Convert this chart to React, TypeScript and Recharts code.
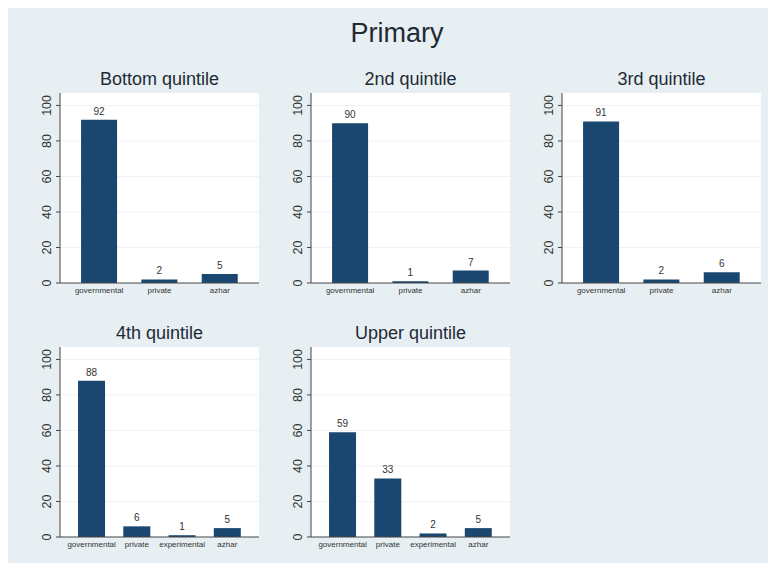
import { BarChart, Bar, XAxis, YAxis, CartesianGrid, LabelList } from "recharts";

const threeTypes = ["governmental", "private", "azhar"];
const fourTypes = ["governmental", "private", "experimental", "azhar"];

const bottomQuintile = [92, 2, 5];
const secondQuintile = [90, 1, 7];
const thirdQuintile = [91, 2, 6];
const fourthQuintile = [88, 6, 1, 5];
const upperQuintile = [59, 33, 2, 5];

const yTicks = [0, 20, 40, 60, 80, 100];

const BG = "#e7eff2";
const NAVY = "#1a476f";
const INK = "#333";
const FONT = "'Liberation Sans', Arial, sans-serif";

const PLOT_W = 199;
const PLOT_H = 190;
const Y_W = 40;
const X_H = 22;

const toRows = (cats: string[], vals: number[]) =>
  cats.map((c, i) => ({ type: c, share: vals[i] }));

const RotatedTick = (props: any) => {
  const { x, y, payload } = props;
  const cx = x - 7;
  return (
    <text
      x={cx}
      y={y}
      transform={`rotate(-90 ${cx} ${y})`}
      textAnchor="middle"
      dominantBaseline="central"
      fontSize={12.5}
      fill={INK}
      fontFamily={FONT}
    >
      {payload.value}
    </text>
  );
};

// plotLeft / plotTop are page coordinates of the white plot region
const Panel = ({
  title,
  cats,
  vals,
  plotLeft,
  plotTop,
}: {
  title: string;
  cats: string[];
  vals: number[];
  plotLeft: number;
  plotTop: number;
}) => {
  const left = plotLeft - 8;
  const top = plotTop - 8;
  return (
    <>
      <div
        style={{
          position: "absolute",
          left,
          top: top - 27,
          width: PLOT_W,
          height: 26,
          lineHeight: "26px",
          textAlign: "center",
          fontSize: 18,
          color: "#1e2a36",
        }}
      >
        {title}
      </div>
      <div style={{ position: "absolute", left: left - Y_W, top }}>
        <BarChart
          width={Y_W + PLOT_W}
          height={PLOT_H + X_H}
          data={toRows(cats, vals)}
          margin={{ top: 0, right: 0, bottom: 0, left: 0 }}
          barCategoryGap="20%"
        >
          <CartesianGrid
            vertical={false}
            fill="#ffffff"
            stroke="#edf2f4"
            horizontalValues={[20, 40, 60, 80, 100]}
          />
          <XAxis
            dataKey="type"
            height={X_H}
            padding={{ left: 9, right: 9 }}
            tickLine={false}
            tickSize={0}
            tickMargin={4}
            stroke="#444"
            tick={{ fontSize: 8, fill: INK, fontFamily: FONT }}
            interval={0}
          />
          <YAxis
            width={Y_W}
            domain={[0, 107]}
            ticks={yTicks}
            tickSize={4}
            tickMargin={2}
            stroke="#444"
            tick={<RotatedTick />}
            allowDataOverflow
          />
          <Bar dataKey="share" fill={NAVY} isAnimationActive={false}>
            <LabelList
              dataKey="share"
              position="top"
              offset={5}
              fontSize={10}
              fill={INK}
              fontFamily={FONT}
            />
          </Bar>
        </BarChart>
      </div>
    </>
  );
};

export default function App() {
  return (
    <div
      style={{
        position: "relative",
        width: 760,
        height: 555,
        background: BG,
        fontFamily: FONT,
      }}
    >
      <div
        style={{
          position: "absolute",
          left: 0,
          top: 10,
          width: 778,
          textAlign: "center",
          fontSize: 27,
          color: "#1e2a36",
        }}
      >
        Primary
      </div>
      <Panel title="Bottom quintile" cats={threeTypes} vals={bottomQuintile} plotLeft={60} plotTop={93} />
      <Panel title="2nd quintile" cats={threeTypes} vals={secondQuintile} plotLeft={311} plotTop={93} />
      <Panel title="3rd quintile" cats={threeTypes} vals={thirdQuintile} plotLeft={562} plotTop={93} />
      <Panel title="4th quintile" cats={fourTypes} vals={fourthQuintile} plotLeft={60} plotTop={347} />
      <Panel title="Upper quintile" cats={fourTypes} vals={upperQuintile} plotLeft={311} plotTop={347} />
    </div>
  );
}
